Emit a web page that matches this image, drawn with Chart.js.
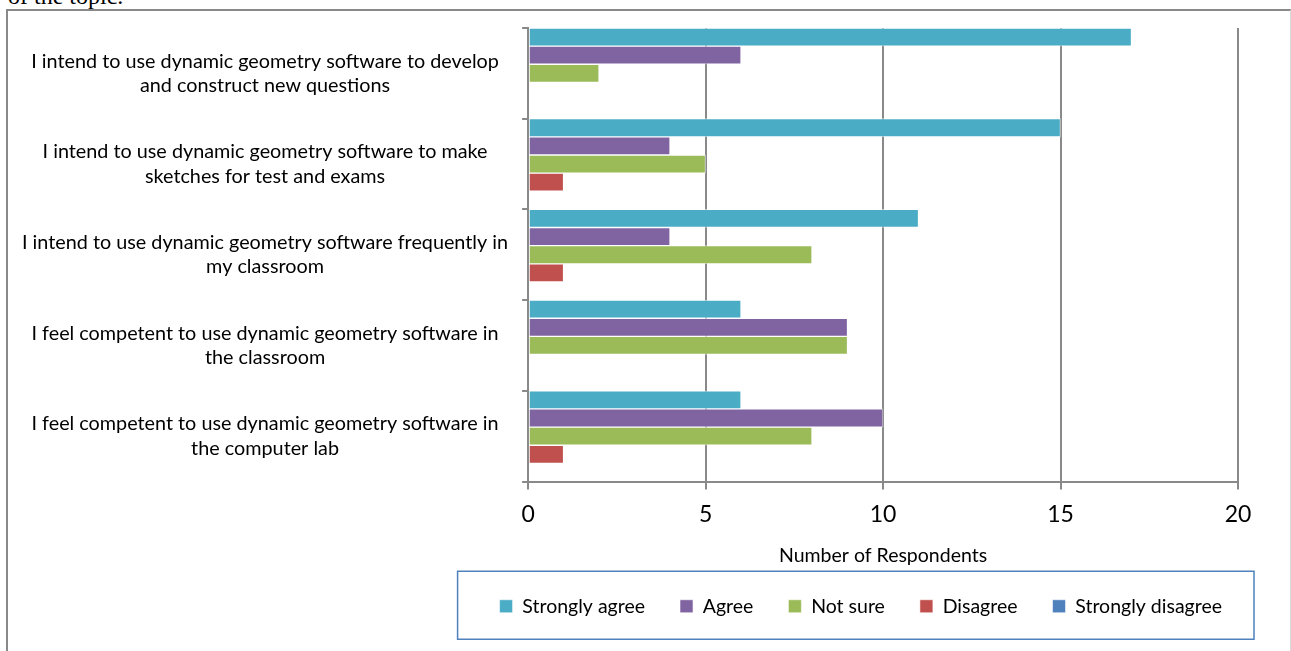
<!DOCTYPE html>
<html>
<head>
<meta charset="utf-8">
<script src="https://cdn.jsdelivr.net/npm/chart.js@4.4.1/dist/chart.umd.min.js"></script>
<style>
  html, body { margin: 0; padding: 0; background: #fff; }
  body { width: 1291px; height: 651px; overflow: hidden; position: relative; }
  .above { position: absolute; left: 8px; top: -17px; font: 24px "Liberation Serif", serif; color: #000; }
  .frame {
    position: absolute; left: 6px; top: 9px; width: 1282px; height: 650px;
    border-left: 2px solid #898989; border-top: 2px solid #898989; border-right: 1px solid #d9d9d9;
    background: #fff;
  }
  canvas { position: absolute; left: 0; top: 0; }
</style>
</head>
<body>
<div class="above">of the topic.</div>
<div class="frame">
  <canvas id="myChart" width="1282" height="640"></canvas>
</div>
<script>
const categories = [
  ['I intend to use dynamic geometry software to develop', 'and construct new questions'],
  ['I intend to use dynamic geometry software to make', 'sketches for test and exams'],
  ['I intend to use dynamic geometry software frequently in', 'my classroom'],
  ['I feel competent to use dynamic geometry software in', 'the classroom'],
  ['I feel competent to use dynamic geometry software in', 'the computer lab']
];

const stronglyAgree = [17, 15, 11, 6, 6];
const agree = [6, 4, 4, 9, 10];
const notSure = [2, 5, 8, 9, 8];
const disagree = [0, 1, 1, 0, 1];
const stronglyDisagree = [0, 0, 0, 0, 0];

const xTicks = [0, 5, 10, 15, 20];

const fontFamily = 'Lato, "Liberation Sans", sans-serif';

// рамка вокруг легенды
const legendFrame = {
  id: 'legendFrame',
  afterDraw(chart) {
    const boxes = chart.legend.legendHitBoxes;
    if (!boxes || !boxes.length) return;
    const left = Math.min(...boxes.map(b => b.left));
    const right = Math.max(...boxes.map(b => b.left + b.width));
    const mid = boxes[0].top + boxes[0].height / 2;
    const ctx = chart.ctx;
    ctx.save();
    ctx.strokeStyle = '#4f81bd';
    ctx.lineWidth = 1.5;
    ctx.strokeRect(left - 42, mid - 35, right - left + 74, 68);
    ctx.restore();
  }
};

const ctx = document.getElementById('myChart');

new Chart(ctx, {
  type: 'bar',
  data: {
    labels: categories,
    datasets: [
      { label: 'Strongly agree', data: stronglyAgree, backgroundColor: '#4bacc6' },
      { label: 'Agree', data: agree, backgroundColor: '#8064a2' },
      { label: 'Not sure', data: notSure, backgroundColor: '#9bbb59' },
      { label: 'Disagree', data: disagree, backgroundColor: '#c0504d' },
      { label: 'Strongly disagree', data: stronglyDisagree, backgroundColor: '#4f81bd' }
    ]
  },
  options: {
    indexAxis: 'y',
    responsive: false,
    animation: false,
    datasets: {
      bar: {
        barPercentage: 1,
        categoryPercentage: 1,
        borderWidth: 1,
        borderColor: 'rgba(255,255,255,0.55)',
        borderSkipped: false
      }
    },
    layout: {
      padding: { top: 17, right: 33, bottom: 25, left: 0 }
    },
    plugins: {
      legend: {
        position: 'bottom',
        align: 'end',
        labels: {
          boxWidth: 13,
          boxHeight: 13,
          padding: 35,
          color: '#000',
          font: { family: fontFamily, size: 19.5 }
        }
      },
      tooltip: { enabled: false }
    },
    scales: {
      x: {
        min: 0,
        max: 20,
        afterFit(scale) {
          scale.paddingRight = 52;
        },
        afterBuildTicks(scale) {
          scale.ticks = xTicks.map(v => ({ value: v }));
        },
        grid: {
          color: '#898989',
          lineWidth: 2,
          tickLength: 8,
          drawTicks: true
        },
        border: { color: '#898989', width: 2 },
        ticks: {
          color: '#000',
          padding: 11,
          font: { family: fontFamily, size: 23 }
        },
        title: {
          display: true,
          text: 'Number of Respondents',
          color: '#000',
          font: { family: fontFamily, size: 19.5 },
          padding: { top: 5, bottom: -6 }
        }
      },
      y: {
        afterFit(scale) {
          scale.paddingTop = 0;
          scale.paddingBottom = 0;
        },
        grid: {
          drawOnChartArea: false,
          color: '#898989',
          lineWidth: 2,
          tickLength: 6
        },
        border: { color: '#898989', width: 2 },
        ticks: {
          color: '#000',
          crossAlign: 'center',
          padding: 14,
          font: { family: fontFamily, size: 19.8, lineHeight: 1.23 }
        }
      }
    }
  },
  plugins: [legendFrame]
});
</script>
</body>
</html>
